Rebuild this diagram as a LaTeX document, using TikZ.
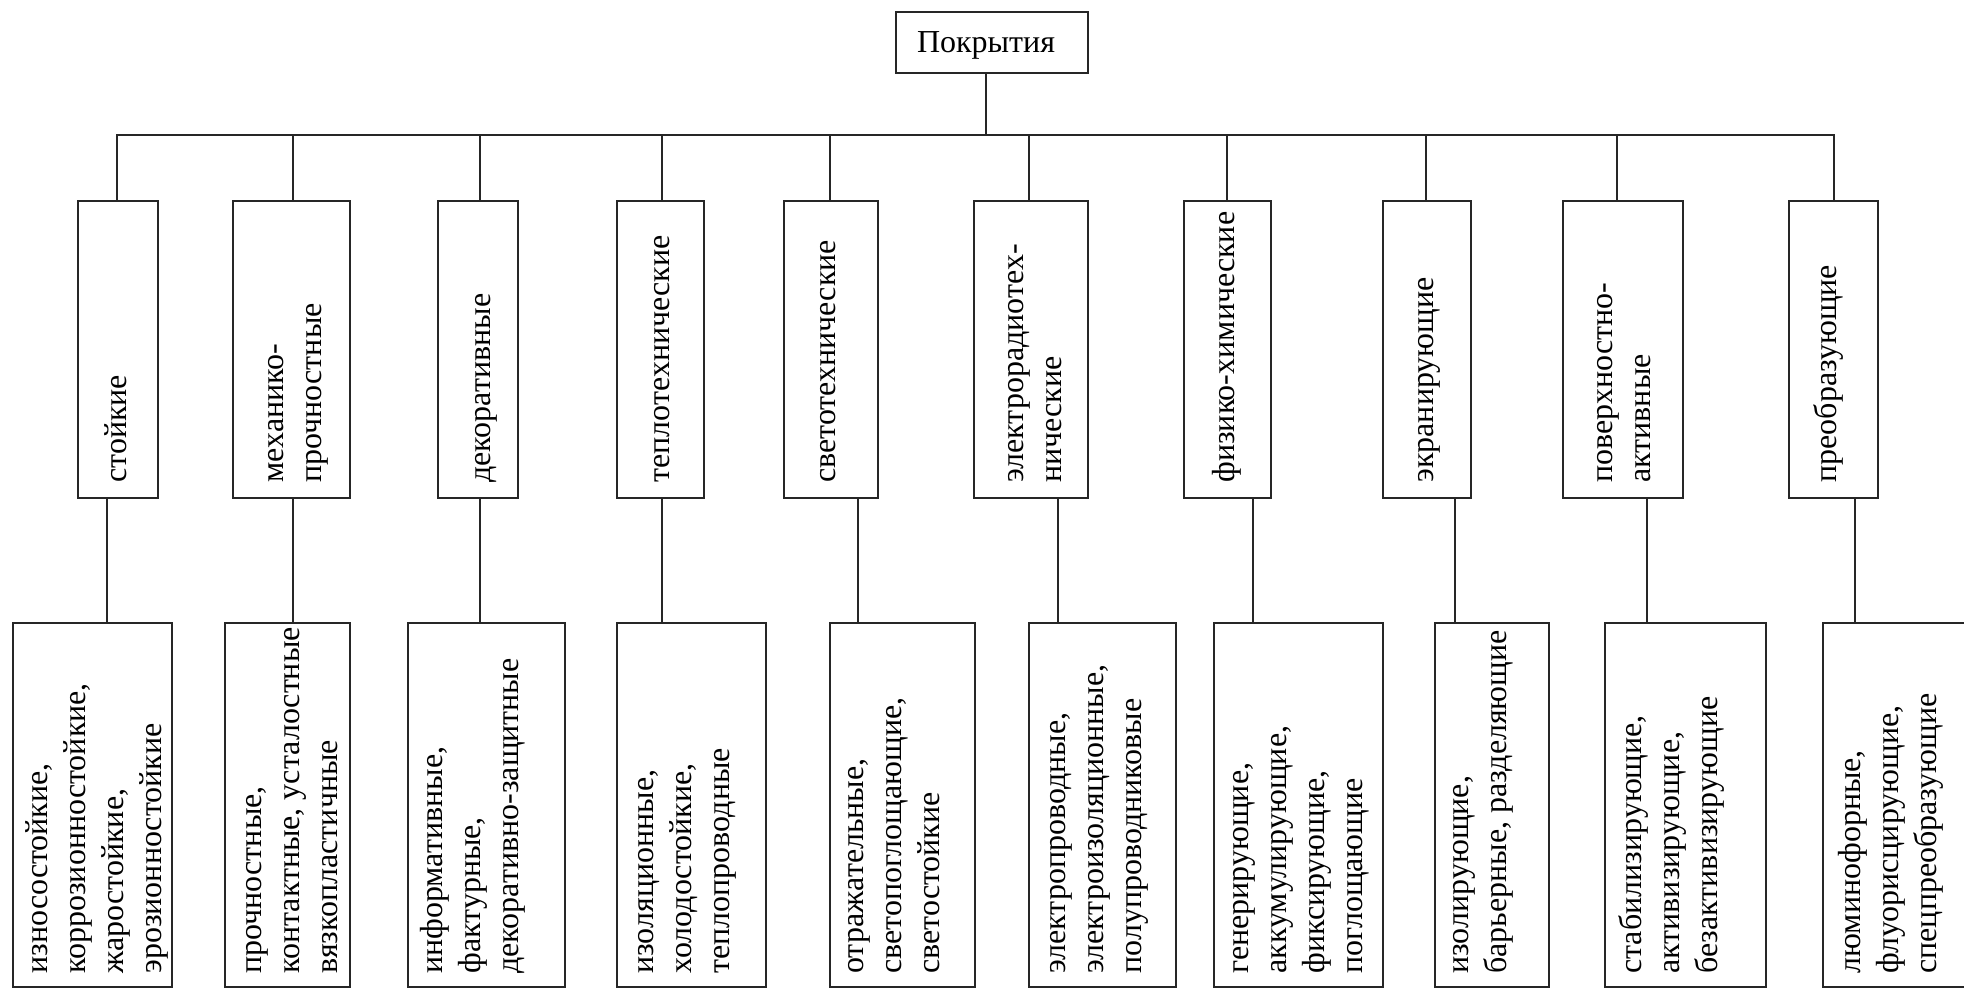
\documentclass[tikz,border=0pt]{standalone}
\usepackage{fontspec}
\setmainfont{Liberation Serif}
\usetikzlibrary{fit}
\newcommand{\boxfont}{\fontsize{16pt}{19pt}\selectfont}

\begin{document}
\begin{tikzpicture}[x=0.5pt,y=-0.5pt,
  box/.style={draw=black!85, line width=1pt, inner sep=0pt},
  link/.style={draw=black!85, line width=1pt},
  vtext/.style={rotate=90, anchor=north west, align=left, inner sep=0pt, font=\boxfont},
]
\useasboundingbox (0,0) rectangle (1964,988);
\clip (0,0) rectangle (1964,988);

% root
\node[box, minimum width=96pt, minimum height=30.5pt, font=\boxfont, text depth=0pt] (top) at (992,42.5) {Покрытия\hspace*{6pt}};

% second level
\node[box, fit={(78.4,201) (157.5,498)}]   (m1) {};
\node[box, fit={(233.4,201) (349.5,498)}]  (m2) {};
\node[box, fit={(437.5,201) (517.9,498)}]  (m3) {};
\node[box, fit={(617.3,201) (704.1,498)}]  (m4) {};
\node[box, fit={(783.8,201) (878.2,498)}]  (m5) {};
\node[box, fit={(974.1,201) (1088,498)}]   (m6) {};
\node[box, fit={(1184,201) (1271.2,498)}]  (m7) {};
\node[box, fit={(1382.6,201) (1471,498)}]  (m8) {};
\node[box, fit={(1562.7,201) (1683.3,498)}] (m9) {};
\node[box, fit={(1789,201) (1877.5,498)}]  (m10) {};

\node[vtext] (mt1)  at (99,483)     {\strut стойкие};
\node[vtext] (mt2)  at (256.6,483)  {\strut механико-\\\strut прочностные};
\node[vtext] (mt3)  at (463.6,483)  {\strut декоративные};
\node[vtext] (mt4)  at (642.3,483)  {\strut теплотехнические};
\node[vtext] (mt5)  at (808,483)    {\strut светотехнические};
\node[vtext] (mt6)  at (996.6,483)  {\strut электрорадиотех-\\\strut нические};
\node[vtext] (mt7)  at (1207.6,483) {\strut физико-химические};
\node[vtext] (mt8)  at (1406.4,483) {\strut экранирующие};
\node[vtext] (mt9)  at (1585.6,483) {\strut поверхностно-\\\strut активные};
\node[vtext] (mt10) at (1809.6,483) {\strut преобразующие};

% third level
\node[box, fit={(12.8,622.7) (171.5,986.7)}]    (l1) {};
\node[box, fit={(225,622.7) (349.5,986.7)}]     (l2) {};
\node[box, fit={(408,622.7) (565,986.7)}]       (l3) {};
\node[box, fit={(617.3,622.7) (766,986.7)}]     (l4) {};
\node[box, fit={(830,622.7) (974.5,986.7)}]     (l5) {};
\node[box, fit={(1028.5,622.7) (1176.4,986.7)}] (l6) {};
\node[box, fit={(1214.3,622.7) (1382.7,986.7)}] (l7) {};
\node[box, fit={(1435,622.7) (1549.3,986.7)}]   (l8) {};
\node[box, fit={(1605.4,622.7) (1765.5,986.7)}] (l9) {};
\node[box, fit={(1823,622.7) (1985,986.7)}]     (l10) {};

\node[vtext] (lt1)  at (20.6,974)   {\strut износостойкие,\\\strut коррозионностойкие,\\\strut жаростойкие,\\\strut эрозионностойкие};
\node[vtext] (lt2)  at (234,974)    {\strut прочностные,\\\strut контактные, усталостные\\\strut вязкопластичные};
\node[vtext] (lt3)  at (415.6,974)  {\strut информативные,\\\strut фактурные,\\\strut декоративно-защитные};
\node[vtext] (lt4)  at (626.6,974)  {\strut изоляционные,\\\strut холодостойкие,\\\strut теплопроводные};
\node[vtext] (lt5)  at (836.6,974)  {\strut отражательные,\\\strut светопоглощающие,\\\strut светостойкие};
\node[vtext] (lt6)  at (1038.2,974) {\strut электропроводные,\\\strut электроизоляционные,\\\strut полупроводниковые};
\node[vtext] (lt7)  at (1221.6,974) {\strut генерирующие,\\\strut аккумулирующие,\\\strut фиксирующие,\\\strut поглощающие};
\node[vtext] (lt8)  at (1441.6,974) {\strut изолирующие,\\\strut барьерные, разделяющие};
\node[vtext] (lt9)  at (1614.6,974) {\strut стабилизирующие,\\\strut активизирующие,\\\strut безактивизирующие};
\node[vtext] (lt10) at (1833.6,974) {\strut люминофорные,\\\strut флуорисцирующие,\\\strut спецпреобразующие};

% root to bus
\coordinate (hub) at (986,135);
\draw[link] (top.south -| hub) -- (hub);

% bus with its two outer drops
\foreach \i/\x in {1/116.7, 2/293.4, 3/479.6, 4/662, 5/830, 6/1028.5, 7/1227, 8/1425.5, 9/1617, 10/1834}
  \coordinate (d\i) at (\x,135);
\draw[link] (m1.north -| d1) -- (d1) -- (d10) -- (m10.north -| d10);
\foreach \i in {2,...,9}
  \draw[link] (d\i) -- (m\i.north -| d\i);

% second level to third level
\foreach \i/\x in {1/106.5, 2/293.4, 3/479.6, 4/662, 5/857.8, 6/1058, 7/1252.6, 8/1455, 9/1647, 10/1855} {
  \coordinate (e\i) at (\x,560);
  \draw[link] (m\i.south -| e\i) -- (l\i.north -| e\i);
}
\end{tikzpicture}
\end{document}
